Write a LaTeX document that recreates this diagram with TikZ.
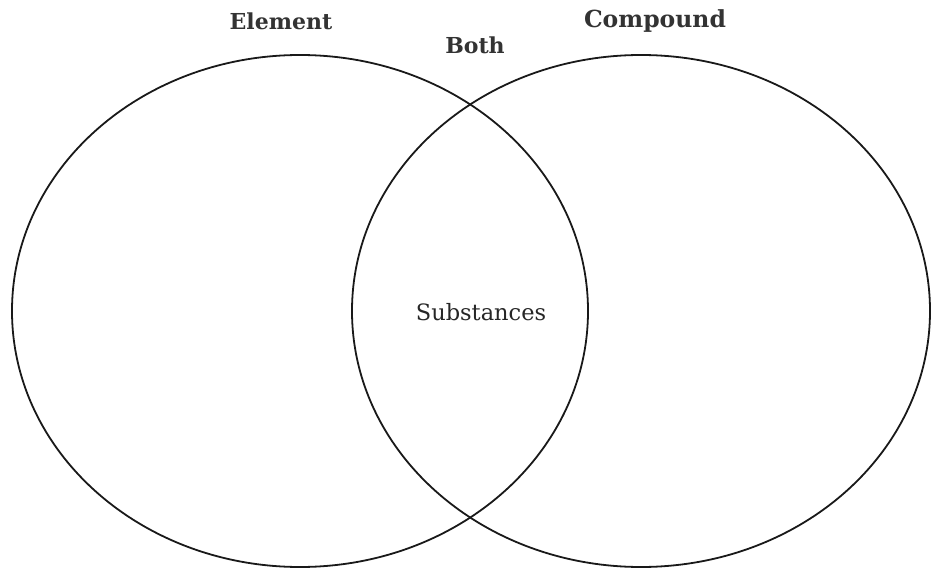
\documentclass[tikz,border=0pt]{standalone}
\usepackage{fontspec}
\setmainfont{DejaVu Serif}
\begin{document}
\begin{tikzpicture}[x=1pt,y=-1pt,
  circ/.style={draw=black!90,line width=1.8pt},
  head/.style={font=\fontsize{22}{26}\selectfont\bfseries,text=black!80},
  body/.style={font=\fontsize{22.5}{26}\selectfont,text=black!85}]
\useasboundingbox (0,0) rectangle (931,569);
\draw[circ] (300,311) ellipse [x radius=288, y radius=256];
\draw[circ] (641,311) ellipse [x radius=289, y radius=256];
\node[head] (element) at (281,21) {Element};
\node[head] (both) at (475,45) {Both};
\node[head,font=\fontsize{23.5}{27}\selectfont\bfseries] (compound) at (655,21) {Compound};
\node[body] (subs) at (481,312) {Substances};
\end{tikzpicture}
\end{document}
